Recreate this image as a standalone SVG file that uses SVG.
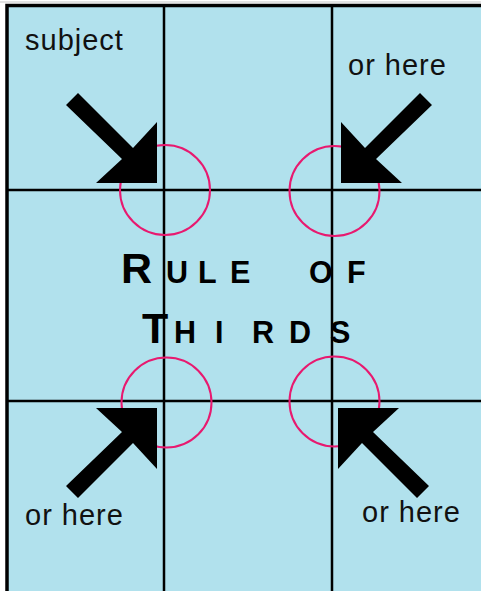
<svg xmlns="http://www.w3.org/2000/svg" width="481" height="591" viewBox="0 0 481 591">
<style>
.lbl{font-family:"Liberation Sans",Arial,sans-serif;font-size:29px;letter-spacing:1px;fill:#111}
.grid{stroke:#000;stroke-width:2.5;fill:none}
.ring{fill:none;stroke:#e8196f;stroke-width:2}
.arrow{fill:#000}
.title{font-family:"Liberation Sans",Arial,sans-serif;font-weight:bold;fill:#000}
</style>
<defs>
<path id="arr" d="M-91,-78 L-79,-90 L-24,-35 L0,-61 L0,0 L-61,0 L-35,-24 Z"/>
</defs>
<rect x="0" y="0" width="481" height="591" fill="#fff"/>
<g id="frame">
<rect x="7" y="5.5" width="490" height="600" fill="#b1e1ed" stroke="#000" stroke-width="3.5"/>
<line x1="0" y1="2" x2="481" y2="2" stroke="#e2e2e2" stroke-width="2"/>
</g>
<g id="grid" class="grid">
<line x1="164" y1="6" x2="164" y2="591"/>
<line x1="332" y1="6" x2="332" y2="591"/>
<line x1="8" y1="190" x2="481" y2="190"/>
<line x1="8" y1="401" x2="481" y2="401"/>
</g>
<g id="circle-tl"><circle class="ring" cx="165" cy="190" r="45"/></g>
<g id="circle-tr"><circle class="ring" cx="334.5" cy="191" r="45"/></g>
<g id="circle-bl"><circle class="ring" cx="166.5" cy="402.5" r="45"/></g>
<g id="circle-br"><circle class="ring" cx="334.5" cy="401.5" r="45"/></g>
<g id="connectors" class="arrow">
<use href="#arr" transform="translate(157,183)"/>
<use href="#arr" transform="translate(341,183) scale(-1,1)"/>
<use href="#arr" transform="translate(157,408) scale(1,-1)"/>
<use href="#arr" transform="translate(338,408) scale(-1,-1)"/>
</g>
<g id="label-subject"><text class="lbl" x="25" y="50">subject</text></g>
<g id="label-tr"><text class="lbl" x="348" y="75">or here</text></g>
<g id="label-bl"><text class="lbl" x="25" y="525">or here</text></g>
<g id="label-br"><text class="lbl" x="362" y="522">or here</text></g>
<g id="title">
<text class="title" y="283"><tspan x="121" font-size="43">R</tspan><tspan font-size="30.5" x="166 198 230">ULE</tspan><tspan font-size="30.5" x="309 347">OF</tspan></text>
<text class="title" y="343"><tspan x="142" font-size="43">T</tspan><tspan font-size="30.5" x="174 215 252 289 330">HIRDS</tspan></text>
</g>
</svg>
